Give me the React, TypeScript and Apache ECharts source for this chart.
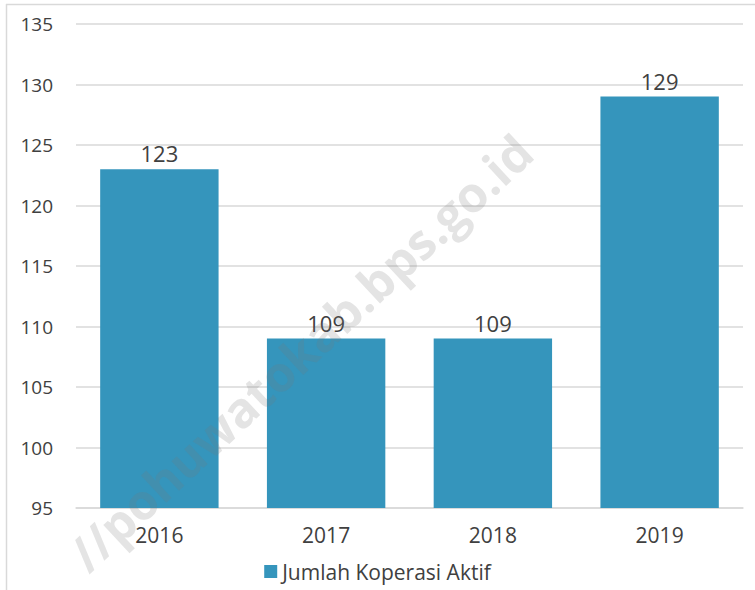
import React, { useEffect, useRef } from "react";
import * as echarts from "echarts";

const categories = ["2016", "2017", "2018", "2019"];
const values = [123, 109, 109, 129];
const seriesName = "Jumlah Koperasi Aktif";
const watermark = "//pohuwatokab.bps.go.id";

export default function App() {
  const ref = useRef<HTMLDivElement>(null);
  useEffect(() => {
    const chart = echarts.init(ref.current!, null, { renderer: "svg" });
    const font = "'Open Sans', 'Noto Sans', sans-serif";
    chart.setOption({
      animation: false,
      backgroundColor: "#ffffff",
      textStyle: { fontFamily: font },
      grid: { left: 76, right: 12, top: 24, bottom: 82 },
      legend: {
        bottom: 3,
        left: "center",
        itemWidth: 13,
        itemHeight: 13,
        icon: "rect",
        itemGap: 8,
        textStyle: { fontSize: 21, color: "#404040", fontFamily: font },
        data: [seriesName],
      },
      xAxis: {
        type: "category",
        data: categories,
        axisLine: { show: true, lineStyle: { color: "#d9d9d9", width: 1.5 } },
        axisTick: { show: false },
        axisLabel: { fontSize: 21, color: "#404040", margin: 16 },
      },
      yAxis: {
        type: "value",
        min: 95,
        max: 135,
        interval: 5,
        axisLine: { show: false },
        axisTick: { show: false },
        splitLine: { lineStyle: { color: "#d9d9d9", width: 1.5 } },
        axisLabel: { fontSize: 19, color: "#404040", margin: 23 },
      },
      series: [
        {
          name: seriesName,
          type: "bar",
          data: values,
          barWidth: "71%",
          itemStyle: { color: "#3595bc" },
          label: {
            show: true,
            position: "top",
            fontSize: 22,
            color: "#404040",
            distance: 5,
          },
        },
      ],
      graphic: [
        {
          type: "line",
          shape: { x1: 6, y1: 4.5, x2: 755, y2: 4.5 },
          style: { stroke: "#d9d9d9", lineWidth: 1.5 },
        },
        {
          type: "line",
          shape: { x1: 6.5, y1: 4, x2: 6.5, y2: 590 },
          style: { stroke: "#d9d9d9", lineWidth: 1.5 },
        },
        {
          type: "text",
          x: 300,
          y: 352,
          rotation: (43 * Math.PI) / 180,
          z: 100,
          style: {
            text: watermark,
            fontSize: 49,
            fontWeight: "bold",
            fontFamily: font,
            fill: "rgba(120,120,120,0.2)",
            align: "center",
            verticalAlign: "middle",
          },
        },
      ],
    });
    return () => chart.dispose();
  }, []);
  return <div ref={ref} style={{ width: 755, height: 590, position: "absolute", left: 0, top: 0 }} />;
}
